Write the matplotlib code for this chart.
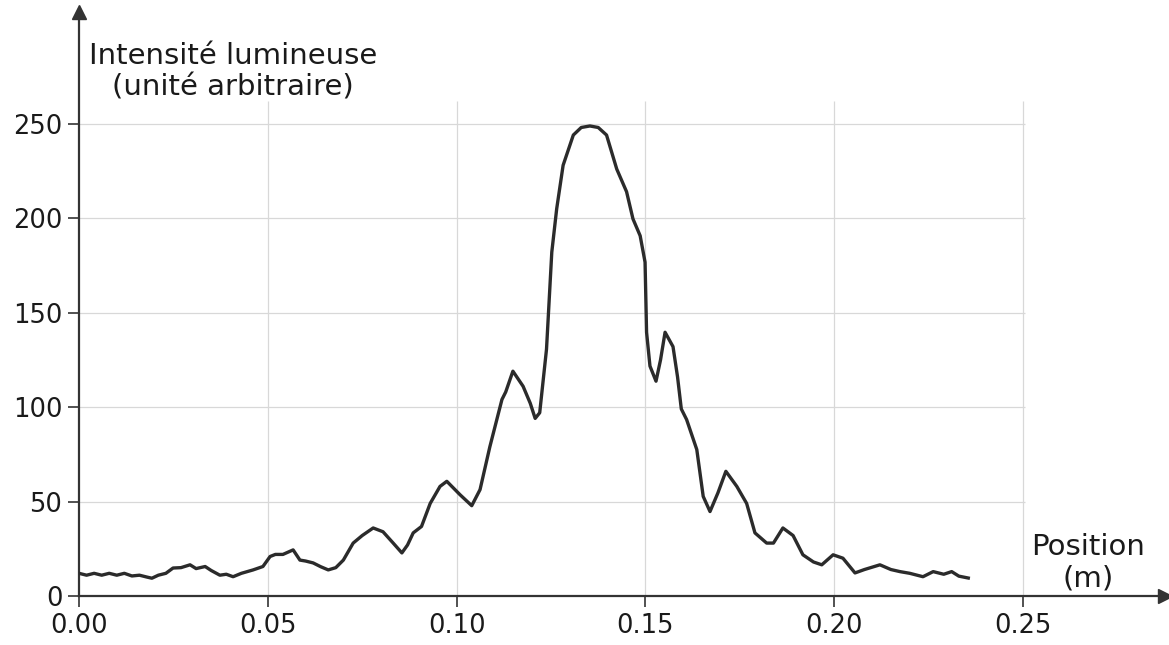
import matplotlib
matplotlib.use("Agg")
import matplotlib.pyplot as plt

# Measured light-intensity profile along the screen
position_m = [
    0.000, 0.002, 0.004, 0.006, 0.008, 0.010, 0.012, 0.014, 0.016, 0.018,
    0.0193, 0.021, 0.023, 0.0249, 0.027, 0.0294, 0.031, 0.0334, 0.035, 0.0373,
    0.039, 0.0408, 0.043, 0.0461, 0.0487, 0.0506, 0.052, 0.054, 0.0567, 0.0585,
    0.060, 0.062, 0.064, 0.066, 0.068, 0.070, 0.0726, 0.075, 0.0779, 0.0805,
    0.0832, 0.0855, 0.087, 0.0885, 0.0907, 0.093, 0.0956, 0.0974, 0.1009, 0.104,
    0.1062, 0.1088, 0.112, 0.113, 0.1149, 0.1176, 0.1195, 0.1208, 0.122, 0.1238,
    0.1252, 0.1265, 0.1282, 0.1309, 0.1330, 0.1353, 0.1375, 0.1397, 0.1424, 0.145,
    0.1467, 0.1486, 0.1499, 0.1503, 0.1512, 0.1528, 0.1540, 0.1552, 0.1573, 0.1585,
    0.1595, 0.1609, 0.1636, 0.1653, 0.1671, 0.1692, 0.1713, 0.1742, 0.1768, 0.179,
    0.1821, 0.1839, 0.1864, 0.1891, 0.1917, 0.1945, 0.1967, 0.1997, 0.2023, 0.2055,
    0.208, 0.2121, 0.215, 0.2174, 0.220, 0.2235, 0.2262, 0.229, 0.2311, 0.233,
    0.2355,
]
intensity = [
    12, 11, 12, 11, 12, 11, 12, 10.6, 11, 10,
    9.4, 11, 12, 14.8, 15, 16.5, 14.5, 15.6, 13.5, 11,
    11.5, 10.2, 12, 13.8, 15.6, 20.9, 22, 22, 24.4, 19,
    18.5, 17.5, 15.5, 13.8, 15, 19, 28, 32, 36, 34,
    28, 22.8, 27, 33.4, 36.8, 49, 58, 60.7, 53.6, 47.8,
    56.3, 79, 104, 108, 119, 111, 102, 94, 97, 130.6,
    182, 205, 228, 244, 248, 248.8, 248, 244, 226, 214,
    199.6, 190.7, 176.7, 139.6, 121.7, 113.7, 125, 139.6, 132, 116,
    99, 93.4, 77.5, 52.7, 44.7, 54.6, 66, 58, 49, 33.4,
    28, 28, 36, 32, 21.8, 18, 16.5, 21.8, 20, 12.2,
    14, 16.5, 14, 12.9, 12, 10.2, 12.9, 11.5, 12.9, 10.5,
    9.5,
]

x_ticks = [0.00, 0.05, 0.10, 0.15, 0.20, 0.25]
x_tick_labels = ["0.00", "0.05", "0.10", "0.15", "0.20", "0.25"]
y_ticks = [0, 50, 100, 150, 200, 250]

fig = plt.figure(figsize=(11.69, 6.45), dpi=100)
ax = fig.add_axes([0.0676, 0.076, 0.929, 0.905])

ax.set_xlim(0, 0.2876)
ax.set_ylim(0, 309)

# light grid limited to the tick range
grid_kw = dict(color="#d8d8d8", lw=0.9, zorder=0)
ax.vlines(x_ticks[1:], 0, 262, **grid_kw)
ax.hlines(y_ticks[1:], 0, 0.2505, **grid_kw)

ax.plot(position_m, intensity, color="#2b2b2b", lw=2.4, solid_joinstyle="round",
        zorder=3)

for side in ("top", "right"):
    ax.spines[side].set_visible(False)
for side in ("left", "bottom"):
    ax.spines[side].set_color("#333333")
    ax.spines[side].set_linewidth(1.6)

# arrow heads on both axes
ax.plot(1, 0, ">", color="#333333", ms=10, transform=ax.transAxes, clip_on=False)
ax.plot(0, 1, "^", color="#333333", ms=10, transform=ax.transAxes, clip_on=False)

ax.set_xticks(x_ticks)
ax.set_xticklabels(x_tick_labels)
ax.set_yticks(y_ticks)
ax.tick_params(axis="both", labelsize=18.5, length=8, width=1.2,
               color="#333333", labelcolor="#1a1a1a", pad=4)

fig.text(233 / 1169, 1 - 72 / 645, "Intensité lumineuse\n(unité arbitraire)",
         ha="center", va="center", fontsize=21, color="#1a1a1a",
         linespacing=1.15)
fig.text(1088 / 1169, 1 - 563 / 645, "Position\n(m)",
         ha="center", va="center", fontsize=21, color="#1a1a1a",
         linespacing=1.15)

fig.savefig("out.png", dpi=100, facecolor="white")
